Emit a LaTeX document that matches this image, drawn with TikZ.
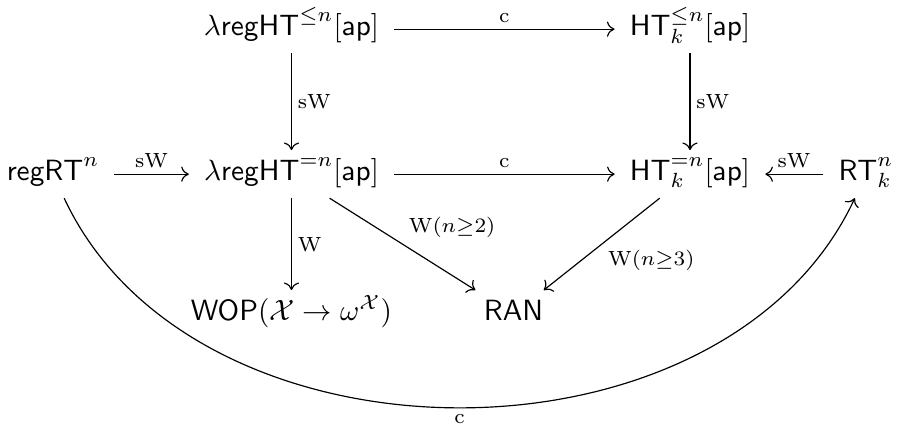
\documentclass[tikz,border=0pt]{standalone}
\usetikzlibrary{arrows.meta}
\begin{document}
\begin{tikzpicture}[x=0.3413pt,y=-0.3413pt,
  obj/.style={anchor=base,text height=8pt,text depth=4pt,inner xsep=5pt,inner ysep=2pt},
  arr/.style={-{Computer Modern Rightarrow[length=2.6pt,width=5.2pt]},line width=0.4pt},
  lbl/.style={inner sep=2pt,font=\scriptsize}]
\useasboundingbox (0,0) rectangle (898,429);
% top row
\node[obj] (A) at (291.5,35) {$\lambda\mathsf{regHT}^{\leq n}[\mathsf{ap}]$};
\node[obj] (B) at (690,35) {$\mathsf{HT}^{\leq n}_{k}[\mathsf{ap}]$};
% middle row
\node[obj] (R) at (53,180) {$\mathsf{regRT}^{n}$};
\node[obj] (C) at (291.5,180) {$\lambda\mathsf{regHT}^{=n}[\mathsf{ap}]$};
\node[obj] (D) at (690,180) {$\mathsf{HT}^{=n}_{k}[\mathsf{ap}]$};
\node[obj] (S) at (866,180) {$\mathsf{RT}^{n}_{k}$};
% bottom row
\node[obj] (W) at (291.5,320) {$\mathsf{WOP}(\mathcal{X}\to\omega^{\mathcal{X}})$};
\node[obj] (N) at (513.5,320) {$\mathsf{RAN}$};
% arrows
\draw[arr] (A) -- node[lbl,above] {$\mathrm{c}$} (B);
\draw[arr] (A) -- node[lbl,right] {$\mathrm{sW}$} (C);
\draw[arr] (B) -- node[lbl,right] {$\mathrm{sW}$} (D);
\draw[arr] (R) -- node[lbl,above] {$\mathrm{sW}$} (C);
\draw[arr] (C) -- node[lbl,above] {$\mathrm{c}$} (D);
\draw[arr] (S) -- node[lbl,above] {$\mathrm{sW}$} (D);
\draw[arr] (C) -- node[lbl,right] {$\mathrm{W}$} (W);
\draw[arr] (C) -- node[lbl,anchor=south west] {$\mathrm{W}(n{\geq}2)$} (N);
\draw[arr] (D) -- node[lbl,anchor=north west] {$\mathrm{W}(n{\geq}3)$} (N);
\draw[arr] (R) to[out=-65,in=-115,looseness=1] node[lbl,below] {$\mathrm{c}$} (S);
\end{tikzpicture}
\end{document}
